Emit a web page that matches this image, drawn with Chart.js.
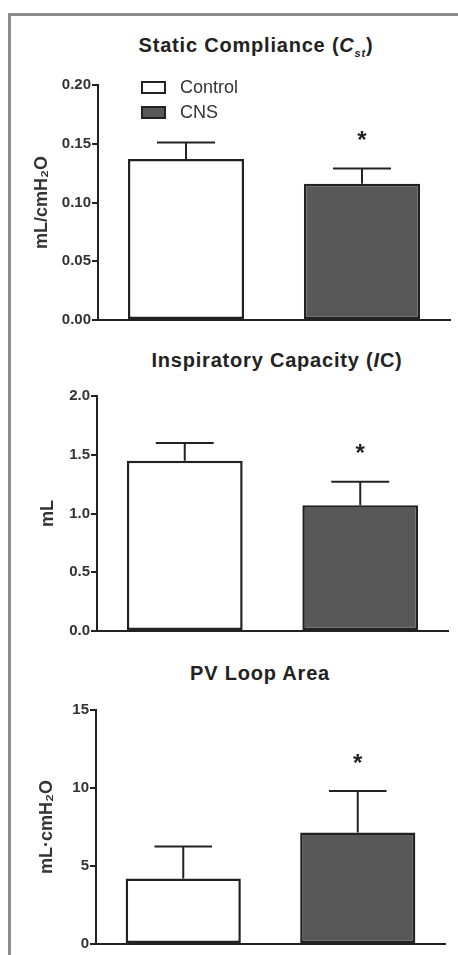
<!DOCTYPE html>
<html>
<head>
<meta charset="utf-8">
<script src="https://cdn.jsdelivr.net/npm/chart.js@4.4.1/dist/chart.umd.min.js"></script>
<style>
  body { margin: 0; background: #fff; width: 458px; height: 955px; position: relative; overflow: hidden;
         font-family: "Liberation Sans", Arial, sans-serif; }
  .frame { position: absolute; left: 8px; top: 13px; width: 470px; height: 970px;
           border-left: 3px solid #8c8c8c; border-top: 3px solid #8c8c8c; }
  canvas { position: absolute; left: 0; }
  .title { position: absolute; transform: translateX(-50%); font-weight: bold; font-size: 20px;
           letter-spacing: 0.8px; line-height: 22px; color: #222; white-space: nowrap; }
  .title sub { font-size: 11px; }
  .legend { position: absolute; left: 141px; top: 81px; font-size: 18px; color: #333; }
  .legend div { height: 25px; line-height: 13px; white-space: nowrap; }
  .legend span.box { display: inline-block; width: 21px; height: 9px; border: 2px solid #222;
                     vertical-align: top; margin-right: 14px; }
</style>
</head>
<body>
<div class="frame"></div>

<div class="title" style="left:256px; top:34px;">Static Compliance (<i>C<sub>st</sub></i>)</div>
<div class="title" style="left:277px; top:349px;">Inspiratory Capacity (<i>I</i>C)</div>
<div class="title" style="left:260px; top:662px;">PV Loop Area</div>

<canvas id="cst" width="458" height="270" style="top:60px"></canvas>
<canvas id="ic" width="458" height="265" style="top:380px"></canvas>
<canvas id="pv" width="458" height="265" style="top:690px"></canvas>

<div class="legend" id="legend"></div>

<script>
const groups = ["Control", "CNS"];
const groupColors = ["#ffffff", "#585858"];
const significant = [false, true];

// static compliance, mL/cmH2O
const cstMean = [0.137, 0.116];
const cstSem = [0.014, 0.013];
const cstTicks = [0, 0.05, 0.10, 0.15, 0.20];
const cstTickLabels = ["0.00", "0.05", "0.10", "0.15", "0.20"];

// inspiratory capacity, mL
const icMean = [1.45, 1.07];
const icSem = [0.15, 0.20];
const icTicks = [0, 0.5, 1.0, 1.5, 2.0];
const icTickLabels = ["0.0", "0.5", "1.0", "1.5", "2.0"];

// PV loop area, mL·cmH2O
const pvMean = [4.2, 7.15];
const pvSem = [2.05, 2.65];
const pvTicks = [0, 5, 10, 15];
const pvTickLabels = ["0", "5", "10", "15"];

const ink = "#222";

const errorBars = {
    id: "errorBars",
    afterDatasetsDraw(chart) {
        const ctx = chart.ctx;
        const yScale = chart.scales.y;
        chart.data.datasets.forEach((ds, i) => {
            chart.getDatasetMeta(i).data.forEach((bar, j) => {
                const v = ds.data[j];
                if (v === null) return;
                const top = yScale.getPixelForValue(v + ds.errors[j]);
                const half = bar.width / 4;
                ctx.save();
                ctx.strokeStyle = ink;
                ctx.lineWidth = 2;
                ctx.beginPath();
                ctx.moveTo(bar.x, bar.y);
                ctx.lineTo(bar.x, top);
                ctx.moveTo(bar.x - half, top);
                ctx.lineTo(bar.x + half, top);
                ctx.stroke();
                if (ds.stars[j]) {
                    ctx.fillStyle = ink;
                    ctx.font = "bold 24px 'Liberation Sans', Arial, sans-serif";
                    ctx.textAlign = "center";
                    ctx.textBaseline = "middle";
                    ctx.fillText("*", bar.x, top - 27);
                }
                ctx.restore();
            });
        });
    }
};

function makeChart(id, mean, sem, ticks, tickLabels, yTitle, box) {
    const datasets = groups.map((g, i) => ({
        label: g,
        data: groups.map((_, j) => (j === i ? mean[j] : null)),
        errors: sem,
        stars: significant,
        backgroundColor: groupColors[i],
        borderColor: ink,
        borderWidth: 2.5,
        borderSkipped: false,
        grouped: false,
        barPercentage: 0.66,
        categoryPercentage: 1
    }));

    return new Chart(document.getElementById(id).getContext("2d"), {
        type: "bar",
        data: { labels: groups, datasets: datasets },
        plugins: [errorBars],
        options: {
            responsive: false,
            animation: false,
            layout: { padding: { top: box.top, bottom: box.bottom, left: 0, right: box.right } },
            plugins: { legend: { display: false }, tooltip: { enabled: false } },
            scales: {
                x: {
                    ticks: { display: false },
                    grid: { display: false },
                    border: { display: true, color: ink, width: 2 },
                    afterFit: (s) => { s.height = 0; }
                },
                y: {
                    min: ticks[0],
                    max: ticks[ticks.length - 1],
                    afterBuildTicks: (s) => { s.ticks = ticks.map((v) => ({ value: v })); },
                    afterFit: (s) => { s.width = box.axis; },
                    ticks: {
                        padding: 1,
                        color: "#333",
                        font: { family: "'Liberation Sans', Arial, sans-serif", size: 15, weight: "bold" },
                        callback: (v, i) => tickLabels[i]
                    },
                    grid: { display: true, drawOnChartArea: false, drawTicks: true, tickLength: 6, lineWidth: 2, color: ink },
                    border: { display: true, color: ink, width: 2 },
                    title: {
                        display: true,
                        text: yTitle,
                        color: "#333",
                        padding: { top: box.titleX, bottom: 0 },
                        font: { family: "'Liberation Sans', Arial, sans-serif", size: 18, weight: "bold" }
                    }
                }
            }
        }
    });
}

document.addEventListener("DOMContentLoaded", () => {
    const legend = document.getElementById("legend");
    groups.forEach((g, i) => {
        const row = document.createElement("div");
        row.innerHTML = '<span class="box" style="background:' + groupColors[i] + '"></span>' + g;
        legend.appendChild(row);
    });

    makeChart("cst", cstMean, cstSem, cstTicks, cstTickLabels, "mL/cmH\u2082O",
        { top: 25, bottom: 10, right: 8, axis: 98, titleX: 31 });
    makeChart("ic", icMean, icSem, icTicks, icTickLabels, "mL",
        { top: 16, bottom: 14, right: 10, axis: 97, titleX: 37 });
    makeChart("pv", pvMean, pvSem, pvTicks, pvTickLabels, "mL\u00b7cmH\u2082O",
        { top: 20, bottom: 11, right: 13, axis: 96, titleX: 36 });
});
</script>
</body>
</html>
